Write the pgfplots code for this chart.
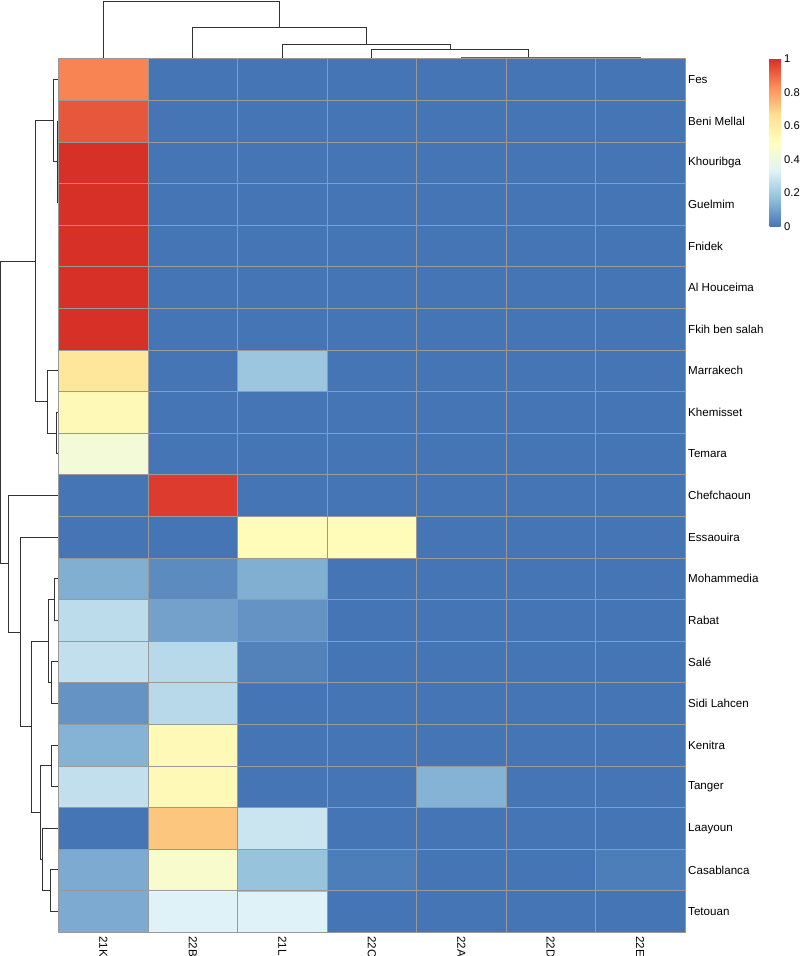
\documentclass[border=0pt]{standalone}
\usepackage{pgfplots}
\pgfplotsset{compat=1.18}
\usepackage{fontspec}
\setmainfont{Liberation Sans}
\definecolor{grey60}{HTML}{999999}
\newcommand\lab{\fontsize{11.6}{13.5}\selectfont}
\newcommand\cblab{\fontsize{11.2}{13}\selectfont}
\pgfplotstableread{
x y v
0 0 0.12
1 0 0.33
2 0 0.33
3 0 0
4 0 0
5 0 0
6 0 0
0 1 0.12
1 1 0.46
2 1 0.18
3 1 0.02
4 1 0
5 1 0
6 1 0.02
0 2 0
1 2 0.72
2 2 0.29
3 2 0
4 2 0
5 2 0
6 2 0
0 3 0.27
1 3 0.53
2 3 0
3 3 0
4 3 0.14
5 3 0
6 3 0
0 4 0.14
1 4 0.53
2 4 0
3 4 0
4 4 0
5 4 0
6 4 0
0 5 0.07
1 5 0.25
2 5 0
3 5 0
4 5 0
5 5 0
6 5 0
0 6 0.27
1 6 0.25
2 6 0.03
3 6 0
4 6 0
5 6 0
6 6 0
0 7 0.26
1 7 0.10
2 7 0.07
3 7 0
4 7 0
5 7 0
6 7 0
0 8 0.13
1 8 0.05
2 8 0.13
3 8 0
4 8 0
5 8 0
6 8 0
0 9 0
1 9 0
2 9 0.52
3 9 0.52
4 9 0
5 9 0
6 9 0
0 10 0
1 10 0.98
2 10 0
3 10 0
4 10 0
5 10 0
6 10 0
0 11 0.43
1 11 0
2 11 0
3 11 0
4 11 0
5 11 0
6 11 0
0 12 0.53
1 12 0
2 12 0
3 12 0
4 12 0
5 12 0
6 12 0
0 13 0.63
1 13 0
2 13 0.19
3 13 0
4 13 0
5 13 0
6 13 0
0 14 1
1 14 0
2 14 0
3 14 0
4 14 0
5 14 0
6 14 0
0 15 1
1 15 0
2 15 0
3 15 0
4 15 0
5 15 0
6 15 0
0 16 1
1 16 0
2 16 0
3 16 0
4 16 0
5 16 0
6 16 0
0 17 1
1 17 0
2 17 0
3 17 0
4 17 0
5 17 0
6 17 0
0 18 1
1 18 0
2 18 0
3 18 0
4 18 0
5 18 0
6 18 0
0 19 0.93
1 19 0
2 19 0
3 19 0
4 19 0
5 19 0
6 19 0
0 20 0.85
1 20 0
2 20 0
3 20 0
4 20 0
5 20 0
6 20 0
}\heatdata
\begin{document}
\begin{tikzpicture}
\begin{axis}[
  at={(0pt,0pt)}, anchor=north west,
  scale only axis, width=800pt, height=956pt,
  xmin=0, xmax=800, ymin=-956, ymax=0,
  hide axis, clip=false,
  tree/.style={no marks, black!80, line width=0.9pt, line join=miter},
]
% row dendrogram
\addplot[tree] coordinates {(58.7,-121.1)(57,-121.1)(57,-202)(58.7,-202)};
\addplot[tree] coordinates {(58.7,-79.5)(53,-79.5)(53,-161.5)(57,-161.5)};
\addplot[tree] coordinates {(58.7,-412.3)(56,-412.3)(56,-453.9)(58.7,-453.9)};
\addplot[tree] coordinates {(58.7,-370.7)(47,-370.7)(47,-433.1)(56,-433.1)};
\addplot[tree] coordinates {(53,-120.5)(35,-120.5)(35,-401.9)(47,-401.9)};
\addplot[tree] coordinates {(58.7,-578.7)(54,-578.7)(54,-620.3)(58.7,-620.3)};
\addplot[tree] coordinates {(58.7,-661.9)(51,-661.9)(51,-703.5)(58.7,-703.5)};
\addplot[tree] coordinates {(54,-599.5)(48,-599.5)(48,-682.7)(51,-682.7)};
\addplot[tree] coordinates {(58.7,-745.1)(51.7,-745.1)(51.7,-786.7)(58.7,-786.7)};
\addplot[tree] coordinates {(58.7,-869.9)(50,-869.9)(50,-911.5)(58.7,-911.5)};
\addplot[tree] coordinates {(58.7,-828.3)(42.5,-828.3)(42.5,-890.7)(50,-890.7)};
\addplot[tree] coordinates {(51.7,-765.9)(40.7,-765.9)(40.7,-859.5)(42.5,-859.5)};
\addplot[tree] coordinates {(48,-641.1)(31,-641.1)(31,-812.7)(40.7,-812.7)};
\addplot[tree] coordinates {(58.7,-537.1)(20,-537.1)(20,-726.9)(31,-726.9)};
\addplot[tree] coordinates {(58.7,-495.5)(8,-495.5)(8,-632)(20,-632)};
\addplot[tree] coordinates {(35,-261.2)(0.8,-261.2)(0.8,-563.8)(8,-563.8)};
% column dendrogram
\addplot[tree, black!60] coordinates {(550.8,-58.7)(550.8,-57.8)(640.3,-57.8)(640.3,-58.7)};
\addplot[tree, black!60] coordinates {(461.3,-58.7)(461.3,-57)(595.5,-57)(595.5,-57.8)};
\addplot[tree] coordinates {(371.8,-58.7)(371.8,-49)(528.4,-49)(528.4,-57)};
\addplot[tree] coordinates {(282.4,-58.7)(282.4,-44)(450.1,-44)(450.1,-49)};
\addplot[tree] coordinates {(192.9,-58.7)(192.9,-27)(366.3,-27)(366.3,-44)};
\addplot[tree] coordinates {(103.4,-58.7)(103.4,-1)(279.6,-1)(279.6,-27)};
\end{axis}
\begin{axis}[
  at={(58.7pt,-58.7pt)}, anchor=north west,
  scale only axis, width=626.3pt, height=873.6pt,
  xmin=-0.5, xmax=6.5, ymin=-0.5, ymax=20.5,
  colormap={rdylbu}{rgb255(0)=(69,117,180) rgb255(1)=(145,191,219) rgb255(2)=(224,243,248) rgb255(3)=(255,255,191) rgb255(4)=(254,224,144) rgb255(5)=(252,141,89) rgb255(6)=(215,48,39)},
  point meta min=0, point meta max=1,
  xtick={0,...,6}, xticklabels={21K,22B,21L,22C,22A,22D,22E},
  ytick={0,...,20},
  yticklabels={Tetouan,Casablanca,Laayoun,Tanger,Kenitra,Sidi Lahcen,Salé,Rabat,Mohammedia,Essaouira,Chefchaoun,Temara,Khemisset,Marrakech,Fkih ben salah,Al Houceima,Fnidek,Guelmim,Khouribga,Beni Mellal,Fes},
  minor xtick={-0.5,0.5,...,6.5}, minor ytick={-0.5,0.5,...,20.5},
  xminorgrids, yminorgrids,
  minor grid style={grey60, line width=0.8pt},
  major tick length=0pt, minor tick length=0pt,
  axis line style={grey60, line width=0.8pt},
  axis on top,
  yticklabel pos=right,
  xticklabel style={rotate=-90, anchor=west, font=\lab, inner sep=0pt, inner xsep=4pt},
  yticklabel style={anchor=west, font=\lab, inner sep=0pt, inner xsep=3pt},
  colorbar,
  colorbar style={
    scale only axis, width=11pt, height=168pt,
    at={(parent axis.north east)}, anchor=north west, xshift=76pt,
    ytick={0,0.2,0.4,0.6,0.8,1}, yticklabels={0,0.2,0.4,0.6,0.8,1},
    minor ytick={}, minor xtick={},
    xminorgrids=false, yminorgrids=false,
    major tick length=0pt, minor tick length=0pt,
    axis line style={draw=none},
    yticklabel pos=right,
    yticklabel style={anchor=west, font=\cblab, inner sep=0pt, inner xsep=3.5pt},
  },
]
\addplot[matrix plot*, mesh/cols=7, point meta=explicit] table[x=x, y=y, meta=v] {\heatdata};
\end{axis}
\pgfresetboundingbox
\path (0pt,0pt) rectangle (800pt,-956pt);
\end{tikzpicture}
\end{document}
